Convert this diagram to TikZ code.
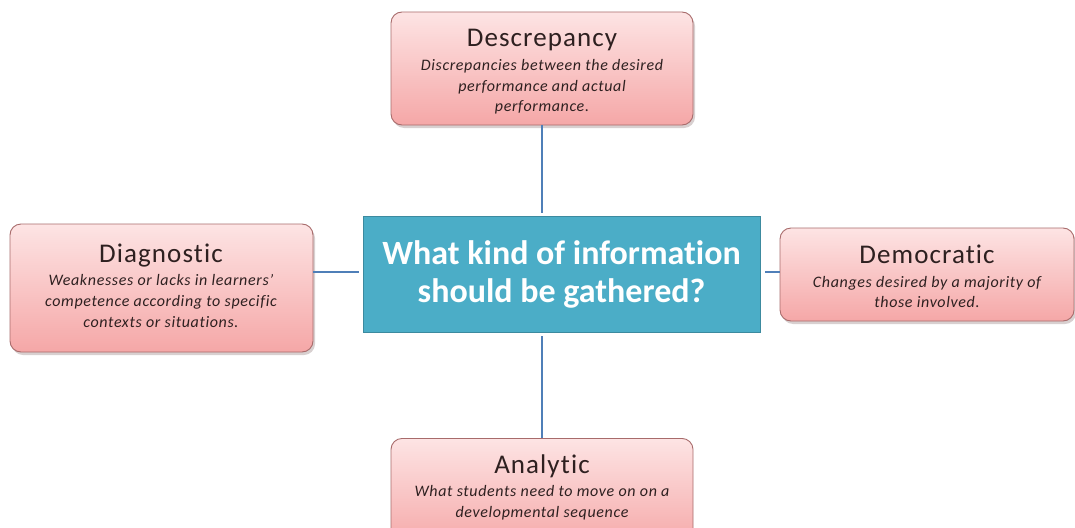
\documentclass[tikz,border=0pt]{standalone}
\usepackage{fontspec}
\setmainfont{Carlito}[Ligatures={NoCommon}]
\definecolor{pinktop}{HTML}{FDE4E4}
\definecolor{pinkbot}{HTML}{F5A7A7}
\definecolor{pinkline}{HTML}{A86B6B}
\definecolor{ctrfill}{HTML}{4BADC7}
\definecolor{conn}{HTML}{4F7FB8}
\definecolor{txt}{HTML}{2E2020}
\definecolor{shadowc}{HTML}{D8D0D0}
\tikzset{
  pinkbox/.style={draw=pinkline, line width=0.9pt, rounded corners=11pt,
    top color=pinktop, bottom color=pinkbot, inner sep=0pt},
  centerbox/.style={fill=ctrfill, draw=ctrfill!80!black, line width=0.4pt, align=center,
    text=white, font=\fontsize{34}{38}\selectfont\bfseries, inner sep=0pt},
  conline/.style={draw=conn, line width=1.4pt},
  shadowbox/.style={fill=shadowc, rounded corners=11pt},
  ttl/.style={font=\fontsize{27}{30}\selectfont\addfontfeatures{LetterSpace=4}, text=txt, inner sep=0pt},
  subt/.style={font=\fontsize{16}{20.7}\selectfont\itshape\addfontfeatures{LetterSpace=4}, text=txt, align=center, inner sep=0pt},
}
\begin{document}
\begin{tikzpicture}[x=1pt,y=-1pt]
\useasboundingbox (0,0) rectangle (1075,527);
% shadows
\fill[shadowbox] (393,15) rectangle (695,128);
\fill[shadowbox] (12,227) rectangle (315,355);
\fill[shadowbox] (782,231) rectangle (1076,324);
% boxes
\node[pinkbox, minimum width=302pt, minimum height=113pt] (desc) at (542,68.5) {};
\node[ttl] (descT) at (542,40) {Descrepancy};
\node[subt] (descS) at (542,87) {Discrepancies between the desired\\performance and actual\\performance.};
\node[pinkbox, minimum width=303pt, minimum height=128pt] (diag) at (161.5,288) {};
\node[ttl] (diagT) at (161,256) {Diagnostic};
\node[subt] (diagS) at (161,301) {Weaknesses or lacks in learners'\\competence according to specific\\contexts or situations.};
\node[pinkbox, minimum width=294pt, minimum height=93pt] (demo) at (927,274.5) {};
\node[ttl] (demoT) at (927,254) {Democratic};
\node[subt] (demoS) at (927,292) {Changes desired by a majority of\\those involved.};
\node[pinkbox, minimum width=302pt, minimum height=110pt, anchor=north] (anal) at (542,438) {};
\node[ttl] (analT) at (542,466) {Analytic};
\node[subt] (analS) at (542,503) {What students need to move on on a\\developmental sequence};
\node[centerbox, minimum width=397pt, minimum height=116pt] (ctr) at (561.5,274)
  {What kind of information\\should be gathered?};
% connectors
\coordinate (ct) at (542,213);
\coordinate (cb) at (542,336);
\coordinate (cl) at (359,272);
\coordinate (cr) at (765,272);
\draw[conline] (desc.south -| ct) -- (ct);
\draw[conline] (cb) -- (anal.north);
\draw[conline] (diag.east |- cl) -- (cl);
\draw[conline] (cr) -- (demo.west |- cr);
\end{tikzpicture}
\end{document}
